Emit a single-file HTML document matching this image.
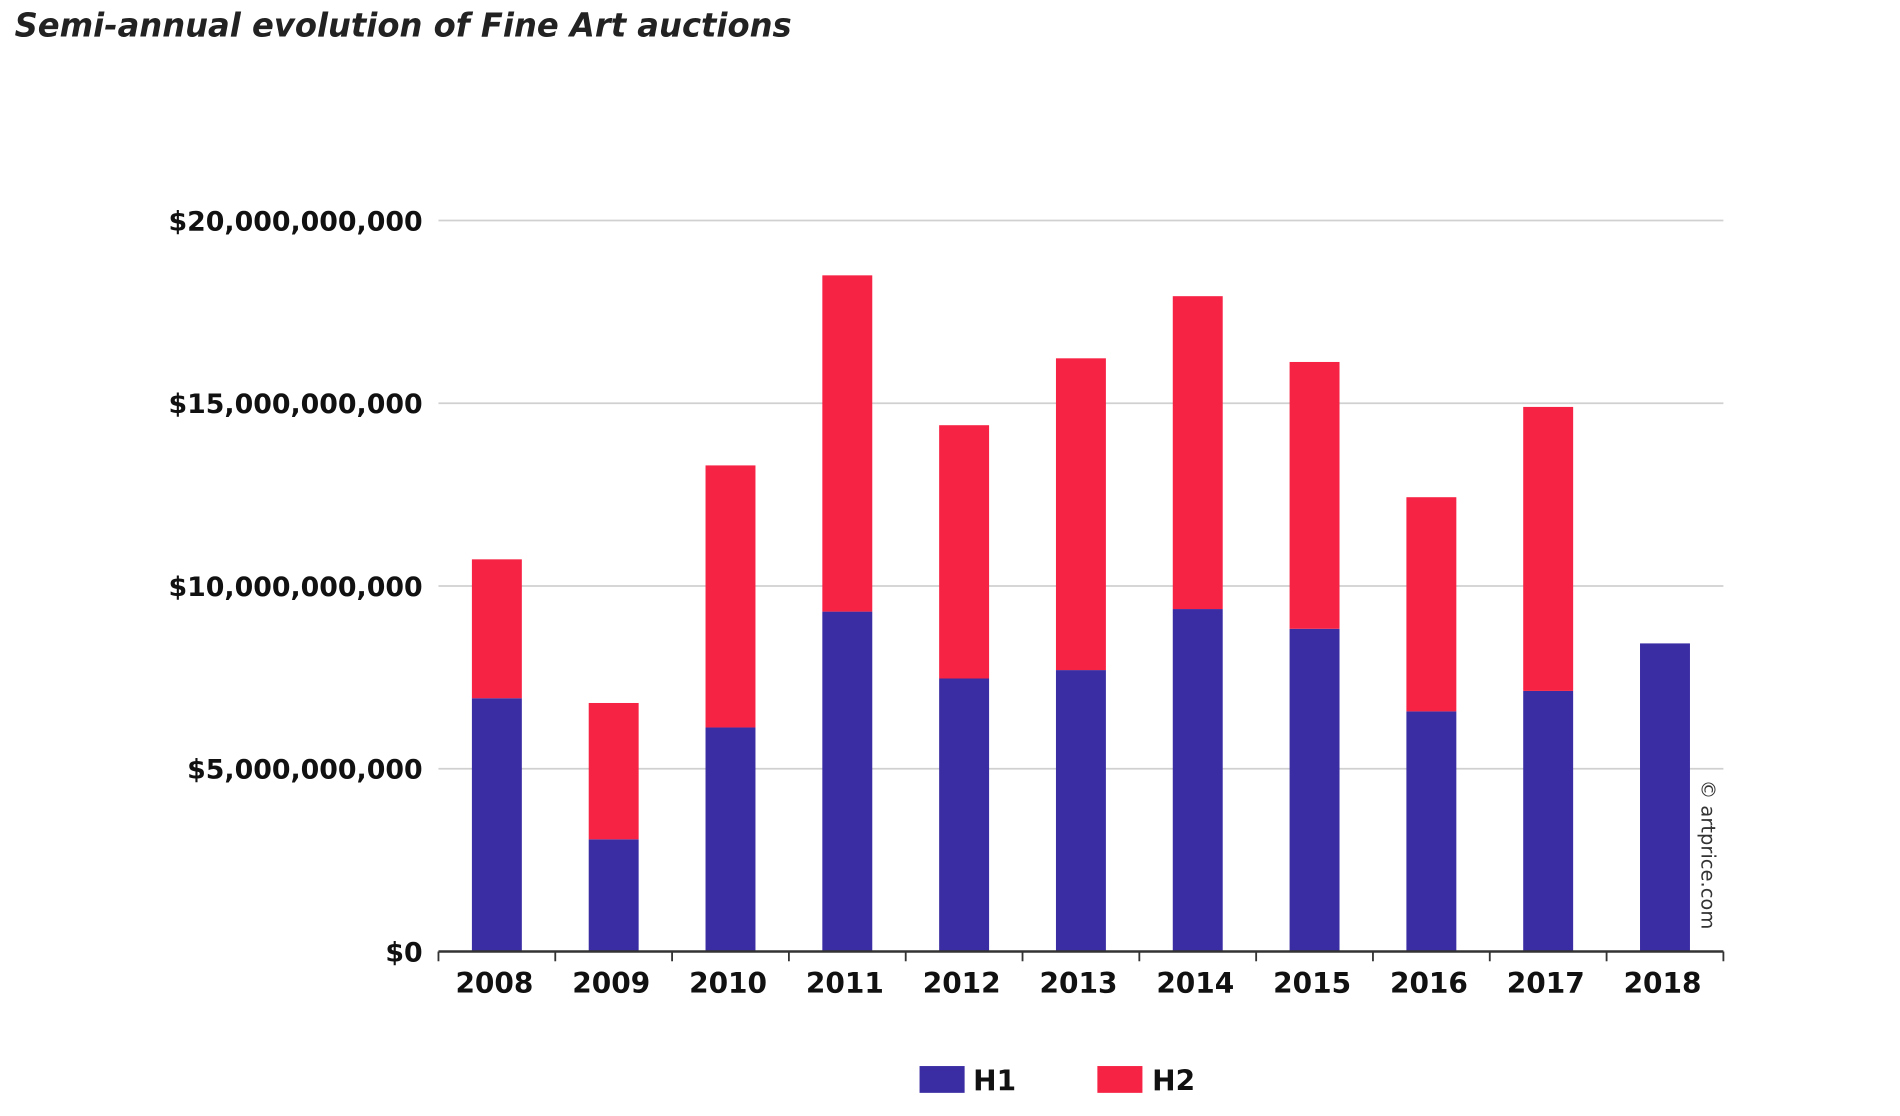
<!DOCTYPE html>
<html><head><meta charset="utf-8"><style>
html,body{margin:0;padding:0;background:#fff;}
svg{display:block;}
text{font-family:"DejaVu Sans","Liberation Sans",sans-serif;}
</style></head><body>
<svg id="chart" width="1900" height="1116" viewBox="0 0 1560 916" preserveAspectRatio="none" xmlns="http://www.w3.org/2000/svg">
<text x="12" y="30" font-size="27" font-weight="bold" font-style="italic" fill="#222" textLength="638" lengthAdjust="spacingAndGlyphs">Semi-annual evolution of Fine Art  auctions</text>
<g id="grid"></g><g id="bars"></g><g id="axis"></g>
<text transform="translate(1397,640) rotate(90)" font-size="16" fill="#333">© artprice.com</text>
<g>
<rect x="755" y="875" width="37" height="22" fill="#3a2ca3"/>
<text x="799" y="895" font-size="23" font-weight="bold" fill="#111">H1</text>
<rect x="901" y="875" width="37" height="22" fill="#f72345"/>
<text x="946" y="895" font-size="23" font-weight="bold" fill="#111">H2</text>
</g>
</svg>
<script>
const years=["2008","2009","2010","2011","2012","2013","2014","2015","2016","2017","2018"];
const h1=[6.93,3.07,6.13,9.3,7.47,7.7,9.37,8.83,6.57,7.13,8.43];
const h2=[3.8,3.73,7.17,9.2,6.93,8.53,8.56,7.3,5.86,7.77,0];
const yTicks=[0,5,10,15,20];
const yTickLabels=["$0","$5,000,000,000","$10,000,000,000","$15,000,000,000","$20,000,000,000"];
const NS="http://www.w3.org/2000/svg";
const x0=360,x1=1415,yBase=781,pxPer=30;
const band=(x1-x0)/years.length,bw=41;
const Y=v=>yBase-v*pxPer;
const X=i=>x0+band*(i+0.5);
function mk(t,a,p){const e=document.createElementNS(NS,t);for(const k in a)e.setAttribute(k,a[k]);p.appendChild(e);return e;}
const g=document.getElementById('grid'),b=document.getElementById('bars'),ax=document.getElementById('axis');
yTicks.forEach((v,i)=>{
 if(v>0){const l=mk('line',{x1:x0,x2:x1,y1:Y(v),y2:Y(v),stroke:'#d0d0d0','stroke-width':1.5},g);
 
 }
 const t=mk('text',{x:347,y:Y(v)+8,'text-anchor':'end','font-size':22,'font-weight':'bold',fill:'#111'},g);
 t.textContent=yTickLabels[i];
 
 
});
years.forEach((yr,i)=>{
 const r1=mk('rect',{x:X(i)-bw/2,y:Y(h1[i]),width:bw,height:h1[i]*pxPer,fill:'#3a2ca3'},b);
 
 
 if(h2[i]>0){const r2=mk('rect',{x:X(i)-bw/2,y:Y(h1[i]+h2[i]),width:bw,height:h2[i]*pxPer,fill:'#f72345'},b);
 
 }
 const t=mk('text',{x:X(i)-2,y:815,'text-anchor':'middle','font-size':23,'font-weight':'bold',fill:'#111'},ax);
 t.textContent=yr;
 
 
});
const al=mk('line',{x1:x0,x2:x1,y1:yBase,y2:yBase,stroke:'#333','stroke-width':2},ax);


for(let i=0;i<=years.length;i++){const tk=mk('line',{x1:x0+band*i,x2:x0+band*i,y1:yBase,y2:yBase+8,stroke:'#333','stroke-width':1.5},ax);
 
 }
</script>
</body></html>
